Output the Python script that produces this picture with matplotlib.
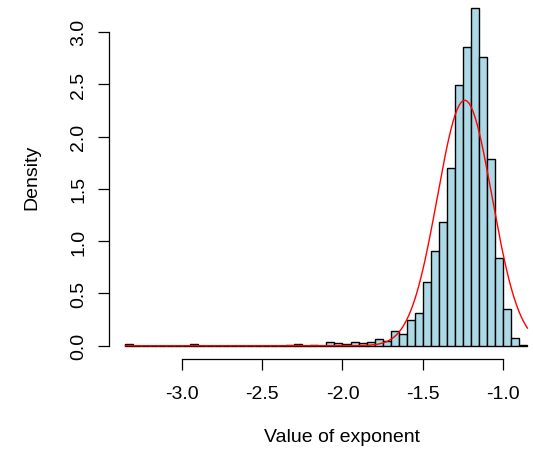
import numpy as np
from matplotlib import pyplot as plt

# histogram of the exponent, bins 0.05 wide from -3.35 to -0.85
bin_start = -3.35
bin_width = 0.05
density = [0.015, 0, 0, 0, 0, 0, 0, 0, 0.015, 0,
           0, 0, 0, 0, 0, 0, 0, 0, 0, 0,
           0.01, 0.02, 0, 0.01, 0, 0.035, 0.025, 0.015, 0.035, 0.03,
           0.035, 0.06, 0.045, 0.14, 0.115, 0.25, 0.315, 0.61, 0.91, 1.18,
           1.70, 2.49, 2.86, 3.23, 2.76, 1.785, 0.84, 0.35, 0.07, 0.005]

# fitted normal curve
mu = -1.24
sigma = 0.17

x_ticks = [-3.0, -2.5, -2.0, -1.5, -1.0]
y_ticks = [0.0, 0.5, 1.0, 1.5, 2.0, 2.5, 3.0]

plt.rcParams['font.family'] = ['Liberation Sans', 'DejaVu Sans']
fs = 14

fig = plt.figure(figsize=(5.33, 4.56), dpi=100)
ax = fig.add_axes([0.2051, 0.2105, 0.7949, 0.7895])

lefts = bin_start + bin_width * np.arange(len(density))
ax.bar(lefts, density, width=bin_width, align='edge', color='lightblue',
       edgecolor='black', linewidth=1.0)

xs = np.linspace(bin_start, bin_start + bin_width * len(density), 201)
ys = np.exp(-0.5 * ((xs - mu) / sigma) ** 2) / (np.sqrt(2 * np.pi) * sigma)
ax.plot(xs, ys, color='red', linewidth=1.0)

ax.set_xlim(-3.45, -0.8153)
ax.set_ylim(-0.127, 3.3145)

for s in ['top', 'right']:
    ax.spines[s].set_visible(False)
ax.spines['left'].set_bounds(0, 3)
ax.spines['bottom'].set_bounds(-3, -1)
ax.spines['left'].set_linewidth(0.9)
ax.spines['bottom'].set_linewidth(0.9)

ax.set_xticks(x_ticks)
ax.set_xticklabels([f"{v:.1f}" for v in x_ticks], fontsize=fs)
ax.set_yticks(y_ticks)
ax.set_yticklabels([f"{v:.1f}" for v in y_ticks], fontsize=fs,
                   rotation=90, va='center')
ax.tick_params(axis='both', direction='out', length=7.9, width=0.9)
ax.tick_params(axis='x', pad=10.5)
ax.tick_params(axis='y', pad=8)

fig.text(0.060, 0.612, "Density", rotation=90, ha='center', va='center', fontsize=fs)
fig.text(0.6417, 0.0395, "Value of exponent", ha='center', va='center', fontsize=fs)

fig.savefig("out.png", dpi=100)
